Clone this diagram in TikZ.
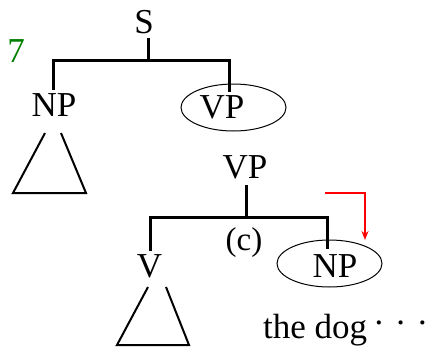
\documentclass[tikz,border=0pt]{standalone}
\usepackage{fontspec}
\setmainfont{Liberation Serif}
\usetikzlibrary{shapes.geometric,arrows.meta}
\newcommand{\mydot}{\raisebox{4pt}{\textperiodcentered}}
\begin{document}
\begin{tikzpicture}[x=1pt,y=-1pt,
  lbl/.style={inner sep=0pt,font=\fontsize{35}{40}\selectfont,anchor=base},
  tree/.style={line width=3pt},
  tri/.style={line width=2pt},
  oval/.style={draw,ellipse,line width=1pt,inner sep=0pt,minimum width=105pt,minimum height=47pt},
  redarrow/.style={draw=red,line width=1.6pt,-{Stealth[length=9pt,width=7pt]}}]
\useasboundingbox (0,0) rectangle (428,351);
% labels
\node[lbl] (S) at (144,33) {S};
\node[lbl,text=green!50!black] (seven) at (16,62) {7};
\node[lbl] (NP1) at (54,116) {NP};
\node[oval] (VPe) at (233.5,107.5) {};
\node[lbl] (VP1) at (222,118) {VP};
\node[lbl] (VP2) at (245,178) {VP};
\node[inner sep=0pt,font=\fontsize{33}{40}\selectfont] (c) at (244,242.5) {(c)};
\node[lbl] (V) at (149.5,277) {V};
\node[oval] (NPe) at (329.5,263.5) {};
\node[lbl,anchor=base west] (dog) at (263,338) {the dog\hspace{6pt}\mydot\hspace{10pt}\mydot\hspace{10pt}\mydot};
\node[lbl] (NP2) at (335,277) {NP};
% top tree
\coordinate (s0) at (148,38);
\coordinate (s1) at (148,60);
\coordinate (sl) at (53,60);
\coordinate (sr) at (229,60);
\coordinate (sl2) at (53,88);
\coordinate (sr2) at (229,90);
\draw[tree] (s0) -- (s1);
\draw[tree,line cap=rect] (sl2) -- (sl) -- (sr) -- (sr2);
% lower tree
\coordinate (v0) at (246,185);
\coordinate (v1) at (246,217);
\coordinate (vl) at (150,217);
\coordinate (vr) at (327,217);
\coordinate (vl2) at (150,249);
\coordinate (vr2) at (327,247);
\draw[tree] (v0) -- (v1);
\draw[tree,line cap=rect] (vl2) -- (vl) -- (vr) -- (vr2);
% triangles
\coordinate (t1a) at (45,133);
\coordinate (t1b) at (61,133);
\coordinate (t1l) at (13,193);
\coordinate (t1r) at (86,193);
\draw[tri] (t1a) -- (t1l) -- (t1r) -- (t1b);
\coordinate (t2a) at (148,287);
\coordinate (t2b) at (166,287);
\coordinate (t2l) at (117,345);
\coordinate (t2r) at (189,345);
\draw[tri] (t2a) -- (t2l) -- (t2r) -- (t2b);
% red arrow
\coordinate (r0) at (325,193);
\coordinate (r1) at (365,240);
\draw[redarrow] (r0) -| (r1);
\end{tikzpicture}
\end{document}
